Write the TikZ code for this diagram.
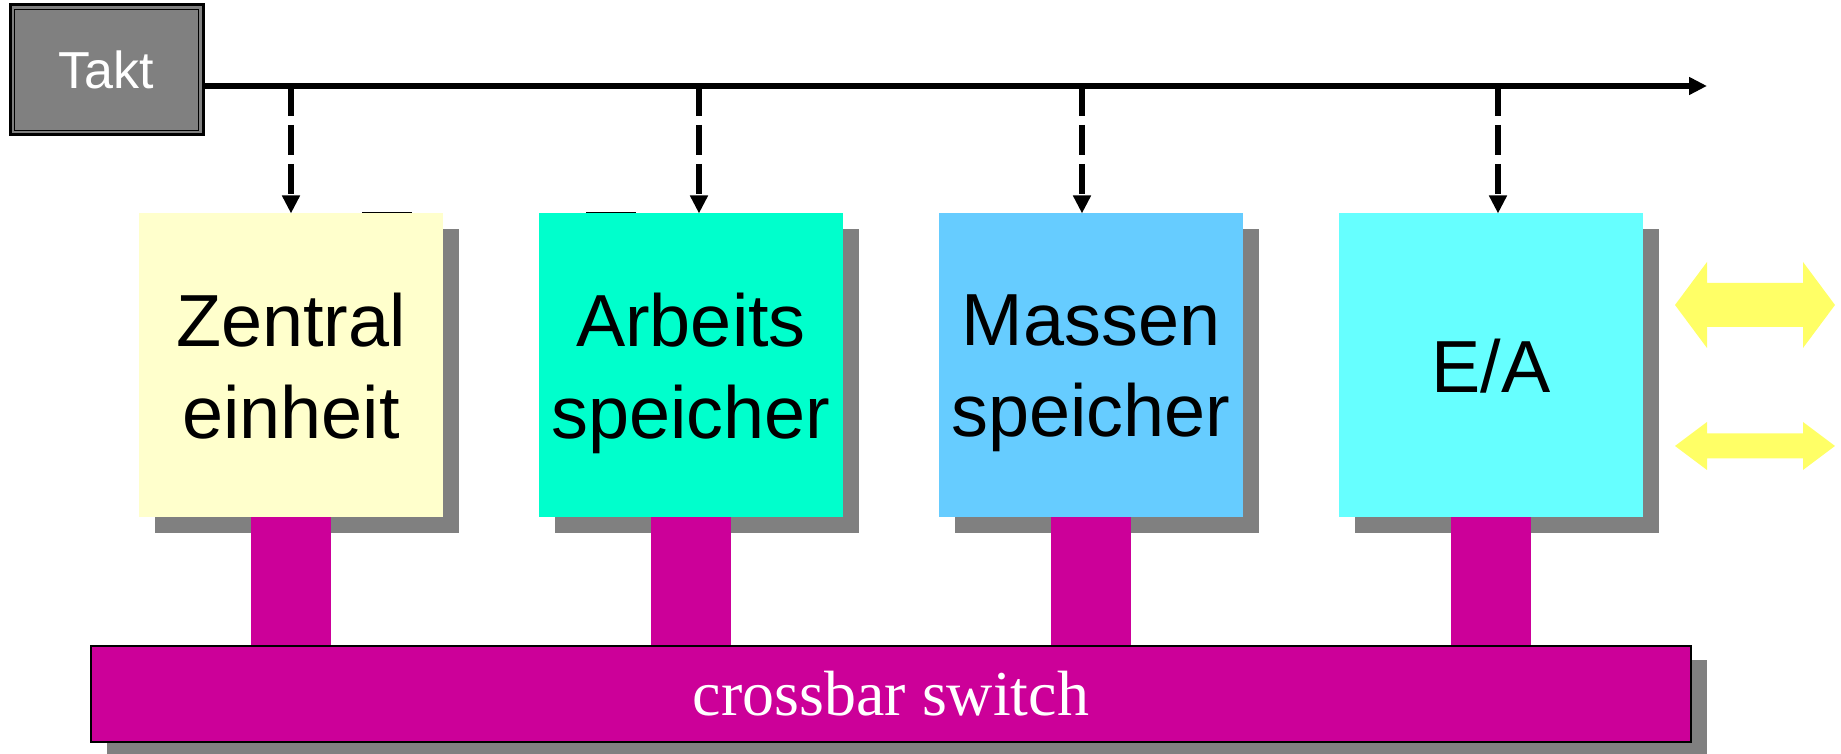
\documentclass[tikz,border=0pt]{standalone}
\usepackage{fontspec}
\setmainfont{Liberation Sans}
\newfontfamily\timesfont{Liberation Serif}
\usetikzlibrary{positioning, shadows, arrows.meta}

\definecolor{zentralcol}{HTML}{FFFFCC}
\definecolor{arbeitscol}{HTML}{00FFCC}
\definecolor{massencol}{HTML}{66CCFF}
\definecolor{eacol}{HTML}{66FFFF}
\definecolor{buscol}{HTML}{CC0099}
\definecolor{shadowcol}{HTML}{808080}
\definecolor{iocol}{HTML}{FFFF66}

\tikzstyle{clock} = [
    rectangle,
    minimum width=1.93cm,
    minimum height=1.30cm,
    fill=shadowcol,
    draw=black,
    line width=0.03cm,
    text=white,
    font=\fontsize{14.8}{17}\selectfont
]
\tikzstyle{unit} = [
    rectangle,
    minimum width=3.04cm,
    minimum height=3.04cm,
    inner sep=0pt,
    outer sep=0pt,
    text depth=0pt,
    align=center,
    font=\fontsize{21}{26.1}\selectfont,
    drop shadow={shadow xshift=0.16cm, shadow yshift=-0.16cm,
                 fill=shadowcol, opacity=1}
]
\tikzstyle{crossbar} = [
    rectangle,
    minimum width=16cm,
    minimum height=0.96cm,
    fill=buscol,
    draw=black,
    line width=0.025cm,
    text=white,
    font=\timesfont\fontsize{18.2}{20}\selectfont,
    drop shadow={shadow xshift=0.16cm, shadow yshift=-0.14cm,
                 fill=shadowcol, opacity=1}
]
\tikzstyle{stub} = [fill=buscol]
\tikzstyle{iobar} = [fill=iocol]
\tikzstyle{arrow} = [line width=0.06cm, -{Triangle[length=0.18cm, width=0.17cm]}]
\tikzstyle{tick} = [arrow, dash pattern=on 0.3cm off 0.09cm]

\begin{document}
\begin{tikzpicture}[node distance=0.96cm]
\useasboundingbox (0,0) rectangle (18.41,7.54);

\node (takt) [clock] at (1.065,6.84) {Takt};
\draw [line width=0.012cm] ([shift={(0.06,-0.06)}]takt.north west)
    rectangle ([shift={(-0.06,0.06)}]takt.south east);

\node (zentral) [unit, fill=zentralcol] at (2.91,3.885) {Zentral\\einheit};
\node (arbeits) [unit, fill=arbeitscol, right=of zentral] {Arbeits\\speicher};
\node (massen) [unit, fill=massencol, right=of arbeits] {Massen\\speicher};
\node (ea) [unit, fill=eacol, right=of massen] {E/A};

\node (xbar) [crossbar] at (8.91,0.60) {crossbar switch};

% clock line and taps
\coordinate (clkend) at (17.07,6.68);
\draw [arrow] (takt.east |- clkend) -- (clkend);
\draw [tick] (zentral.north |- clkend) -- (zentral.north);
\draw [tick] ([xshift=0.08cm]arbeits.north |- clkend) -- ([xshift=0.08cm]arbeits.north);
\draw [tick] ([xshift=-0.09cm]massen.north |- clkend) -- ([xshift=-0.09cm]massen.north);
\draw [tick] ([xshift=0.07cm]ea.north |- clkend) -- ([xshift=0.07cm]ea.north);

% little marks on the box tops
\draw [line width=0.012cm] ([xshift=2.23cm, yshift=0.01cm]zentral.north west) -- ++(0.5,0);
\draw [line width=0.012cm] ([xshift=0.47cm, yshift=0.01cm]arbeits.north west) -- ++(0.5,0);

% links down to the crossbar
\fill [stub] ([xshift=-0.4cm]zentral.south) rectangle ([xshift=0.4cm]zentral.south |- xbar.north);
\fill [stub] ([xshift=-0.4cm]arbeits.south) rectangle ([xshift=0.4cm]arbeits.south |- xbar.north);
\fill [stub] ([xshift=-0.4cm]massen.south) rectangle ([xshift=0.4cm]massen.south |- xbar.north);
\fill [stub] ([xshift=-0.4cm]ea.south) rectangle ([xshift=0.4cm]ea.south |- xbar.north);

% I/O arrows
\fill [iobar] (16.75,4.49) -- (17.07,4.92) -- (17.07,4.71) -- (18.03,4.71) -- (18.03,4.92)
    -- (18.35,4.49) -- (18.03,4.06) -- (18.03,4.27) -- (17.07,4.27) -- (17.07,4.06) -- cycle;
\fill [iobar] (16.75,3.08) -- (17.07,3.32) -- (17.07,3.205) -- (18.03,3.205) -- (18.03,3.32)
    -- (18.35,3.08) -- (18.03,2.84) -- (18.03,2.955) -- (17.07,2.955) -- (17.07,2.84) -- cycle;

\end{tikzpicture}
\end{document}
